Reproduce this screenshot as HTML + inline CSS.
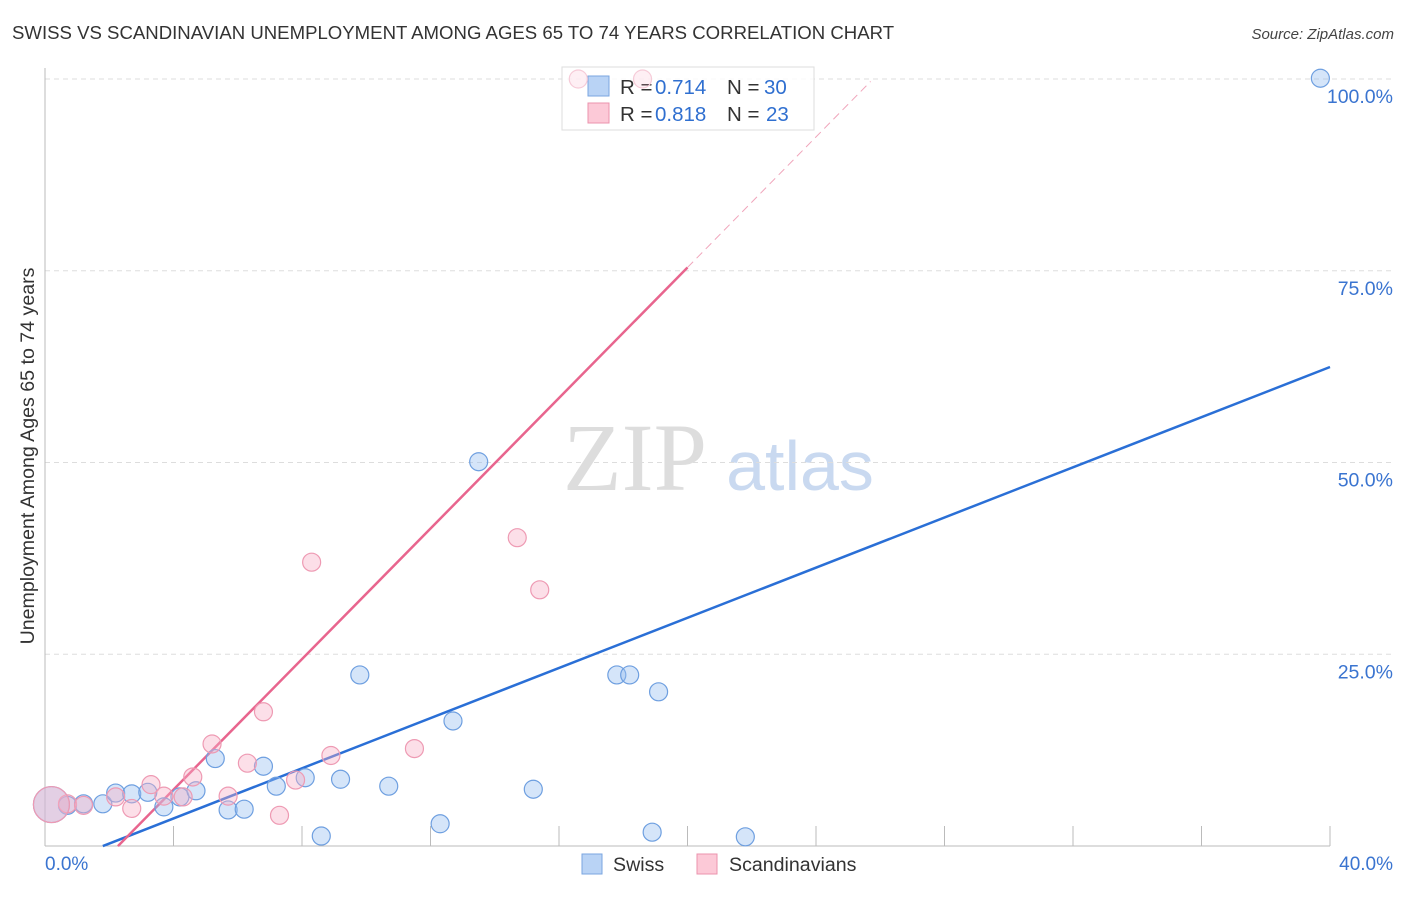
<!DOCTYPE html>
<html><head><meta charset="utf-8"><style>
body{margin:0;background:#fff;font-family:"Liberation Sans",sans-serif;}
</style></head><body>
<svg width="1406" height="892" xmlns="http://www.w3.org/2000/svg">
<text x="12" y="39" font-size="18.6" fill="#333">SWISS VS SCANDINAVIAN UNEMPLOYMENT AMONG AGES 65 TO 74 YEARS CORRELATION CHART</text>
<text x="1394" y="39" font-size="15" fill="#444" font-style="italic" text-anchor="end">Source: ZipAtlas.com</text>
<text x="635" y="490" font-size="96" fill="#ddd" font-family="Liberation Serif,serif" text-anchor="middle">ZIP</text>
<text x="800" y="490" font-size="70" fill="#c9d9f0" text-anchor="middle">atlas</text>
<text transform="translate(34,456) rotate(-90)" font-size="19.6" fill="#333" text-anchor="middle">Unemployment Among Ages 65 to 74 years</text>
<g id="grid"></g><g id="lines"></g>
<g>
<rect x="562" y="67" width="252" height="63" fill="#fff" fill-opacity="0.85" stroke="#ddd"/>
<rect x="588" y="76" width="21" height="20" fill="#b9d3f5" stroke="#7aa6e0"/>
<rect x="588" y="103" width="21" height="20" fill="#fcc9d7" stroke="#eb93ad"/>
<g font-size="20.5" fill="#333">
<text x="620" y="94">R =</text><text x="655" y="94" fill="#2f6fd0">0.714</text><text x="727" y="94">N =</text><text x="764" y="94" fill="#2f6fd0">30</text>
<text x="620" y="121">R =</text><text x="655" y="121" fill="#2f6fd0">0.818</text><text x="727" y="121">N =</text><text x="766" y="121" fill="#2f6fd0">23</text>
</g>
</g>
<g id="pts"></g>
<g>
<rect x="582" y="854" width="20" height="20" fill="#b9d3f5" stroke="#7aa6e0"/>
<text x="613" y="871" font-size="19.6" fill="#333">Swiss</text>
<rect x="697" y="854" width="20" height="20" fill="#fcc9d7" stroke="#eb93ad"/>
<text x="729" y="871" font-size="19.6" fill="#333">Scandinavians</text>
</g>
</svg>
<script>
const yTicks=[25,50,75,100];
const yTickLabels=["25.0%","50.0%","75.0%","100.0%"];
const swissX=[0.7,1.2,1.8,2.2,2.7,3.2,3.7,4.2,4.7,5.3,5.7,6.2,6.8,7.2,8.1,8.6,9.2,9.8,10.7,12.3,12.7,13.5,15.2,17.8,18.2,18.9,19.1,21.8,39.7,0.2];
const swissY=[5.3,5.5,5.5,6.9,6.8,7.0,5.1,6.4,7.2,11.4,4.7,4.8,10.4,7.8,8.9,1.3,8.7,22.3,7.8,2.9,16.3,50.1,7.4,22.3,22.3,1.8,20.1,1.2,100.1,5.4];
const scanX=[0.7,1.2,2.2,2.7,3.3,3.7,4.3,4.6,5.2,5.7,6.3,6.8,7.3,7.8,8.3,8.9,11.5,14.7,15.4,16.6,18.6,0.2];
const scanY=[5.5,5.3,6.4,4.9,8.0,6.5,6.4,9.0,13.3,6.5,10.8,17.5,4.0,8.6,37.0,11.8,12.7,40.2,33.4,100,100,5.4];
const blueLine={slope:1.635,intercept:-2.95,x0:1.8,x1:40};
const pinkLine={slope:4.255,intercept:-9.67,x0:2.27,xSolid:20,x1:25.7};
const X=v=>45+v*32.125, Y=v=>846-v*7.67;
const ns="http://www.w3.org/2000/svg";
function mk(t,a,p){const e=document.createElementNS(ns,t);for(const k in a)e.setAttribute(k,a[k]);p.appendChild(e);return e;}
const g=document.getElementById('grid');
yTicks.forEach((t,i)=>{
 const l=mk('line',{x1:45,x2:1394,y1:Y(t),y2:Y(t),stroke:'#ddd','stroke-dasharray':'5,4'},g);
 
 
 const tx=mk('text',{x:1393,y:Y(t)+24,'font-size':19.5,fill:'#3a74d0','text-anchor':'end'},g);tx.textContent=yTickLabels[i];
 
 
});
mk('line',{x1:45,x2:45,y1:68,y2:846,stroke:'#bbb'},g);
mk('line',{x1:45,x2:1330,y1:846,y2:846,stroke:'#bbb'},g);
for(let i=1;i<=10;i++){const tk=mk('line',{x1:X(i*4),x2:X(i*4),y1:826,y2:846,stroke:'#bbb'},g);
 
 }
let a=mk('text',{x:45,y:870,'font-size':19,fill:'#3a74d0'},g);a.textContent='0.0%';


a=mk('text',{x:1393,y:870,'font-size':19,fill:'#3a74d0','text-anchor':'end'},g);a.textContent='40.0%';


const p=document.getElementById('pts');
swissX.forEach((x,i)=>{const r=(i==swissX.length-1)?18:9;
 const c=mk('circle',{cx:X(x),cy:Y(swissY[i]),r:r,fill:'rgba(150,190,240,0.4)',stroke:'#6e9fe0','stroke-width':1.2},p);
 
 });
scanX.forEach((x,i)=>{const r=(i==scanX.length-1)?18:9;
 const big=scanY[i]>=99;
 const c=mk('circle',{cx:X(x),cy:Y(scanY[i]),r:r,fill:big?'rgba(248,175,198,0.2)':'rgba(248,175,198,0.4)',stroke:big?'#f6cbd8':'#ee9ab3','stroke-width':1.2},p);
 
 });
const L=document.getElementById('lines');
let b=mk('line',{x1:X(blueLine.x0),y1:Y(blueLine.slope*blueLine.x0+blueLine.intercept),x2:X(blueLine.x1),y2:Y(blueLine.slope*blueLine.x1+blueLine.intercept),stroke:'#2a6fd6','stroke-width':2.5},L);


b=mk('line',{x1:X(pinkLine.x0),y1:Y(pinkLine.slope*pinkLine.x0+pinkLine.intercept),x2:X(pinkLine.xSolid),y2:Y(pinkLine.slope*pinkLine.xSolid+pinkLine.intercept),stroke:'#e8658e','stroke-width':2.5},L);


b=mk('line',{x1:X(pinkLine.xSolid),y1:Y(pinkLine.slope*pinkLine.xSolid+pinkLine.intercept),x2:X(pinkLine.x1),y2:Y(pinkLine.slope*pinkLine.x1+pinkLine.intercept),stroke:'#f0a5bb','stroke-width':1,'stroke-dasharray':'8,5'},L);


</script>
</body></html>
